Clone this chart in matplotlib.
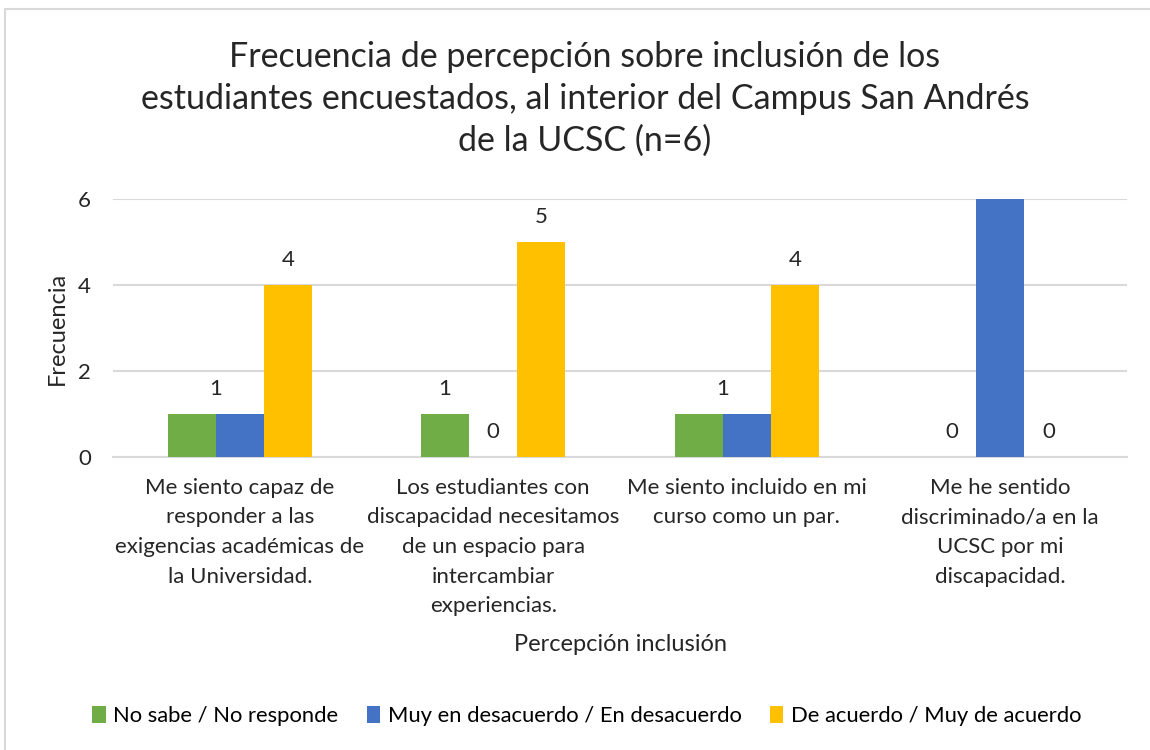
import matplotlib
matplotlib.use("Agg")
import matplotlib.pyplot as plt
from matplotlib.patches import Rectangle
import numpy as np

plt.rcParams['font.family'] = ['Lato', 'DejaVu Sans']

categories = [
    "Me siento capaz de\nresponder a las\nexigencias académicas de\nla Universidad.",
    "Los estudiantes con\ndiscapacidad necesitamos\nde un espacio para\nintercambiar\nexperiencias.",
    "Me siento incluido en mi\ncurso como un par.",
    "Me he sentido\ndiscriminado/a en la\nUCSC por mi\ndiscapacidad.",
]
series_names = ["No sabe / No responde",
                "Muy en desacuerdo / En desacuerdo",
                "De acuerdo / Muy de acuerdo"]
no_sabe = [1, 1, 1, 0]
desacuerdo = [1, 0, 1, 6]
acuerdo = [4, 5, 4, 0]
colors = ["#70AD47", "#4472C4", "#FFC000"]

title = ("Frecuencia de percepción sobre inclusión de los\n"
         "estudiantes encuestados, al interior del Campus San Andrés\n"
         "de la UCSC (n=6)")

W, H = 1150, 750
fig = plt.figure(figsize=(W / 100, H / 100), dpi=100)
fig.patches.append(Rectangle((5 / W, -0.05), 1.2, 1.05 - 9 / H, transform=fig.transFigure,
                             fill=False, edgecolor="#d9d9d9", linewidth=1.5))

ax = fig.add_axes([113 / W, (H - 457) / H, (1127 - 113) / W, (457 - 199) / H])
x = np.arange(len(categories))
bw = 0.19
data = [no_sabe, desacuerdo, acuerdo]
ymax = 6
for i, (vals, c, name) in enumerate(zip(data, colors, series_names)):
    ax.bar(x + (i - 1) * bw, vals, width=bw, color=c, label=name, zorder=3)

# data labels
for j in range(len(categories)):
    g, b, y = no_sabe[j], desacuerdo[j], acuerdo[j]
    positions = []
    if g == b and g > 0:
        positions.append(((x[j] - 0.5 * bw), g))
    else:
        positions.append((x[j] - bw, g))
        positions.append((x[j], b))
    positions.append((x[j] + bw, y))
    for px, v in positions:
        if v >= ymax:
            continue
        ax.annotate(str(v), (px, v), xytext=(0, 18), textcoords="offset points",
                    ha="center", va="center", fontsize=16, color="#262626")

ax.set_xlim(-0.5, len(categories) - 0.5)
ax.set_ylim(0, ymax)
ax.set_yticks([0, 2, 4, 6])
ax.yaxis.grid(True, color="#d9d9d9", linewidth=1.5, zorder=0)
ax.set_axisbelow(True)
for s in ["top", "right", "left"]:
    ax.spines[s].set_visible(False)
ax.spines["bottom"].set_color("#d9d9d9")
ax.spines["bottom"].set_linewidth(1.5)
ax.tick_params(axis="both", length=0, labelsize=16, colors="#262626")
ax.tick_params(axis="y", pad=16)
ax.tick_params(axis="x", pad=15)
ax.set_xticks(x)
ax.set_xticklabels(categories, linespacing=1.6)
ax.set_ylabel("Frecuencia", fontsize=17, color="#262626", labelpad=7)
ax.set_xlabel("Percepción inclusión", fontsize=17, color="#262626", labelpad=13)

fig.text(585 / W, 1 - 99 / H, title, ha="center", va="center", fontsize=24.5,
         color="#262626", linespacing=1.38)

fig.legend(loc="center", bbox_to_anchor=(587 / W, 1 - 716 / H), ncol=3, frameon=False,
           fontsize=15.8, handlelength=0.6, handleheight=0.8, handletextpad=0.35,
           columnspacing=1.3)

fig.savefig("out.png", dpi=100, facecolor="white")
